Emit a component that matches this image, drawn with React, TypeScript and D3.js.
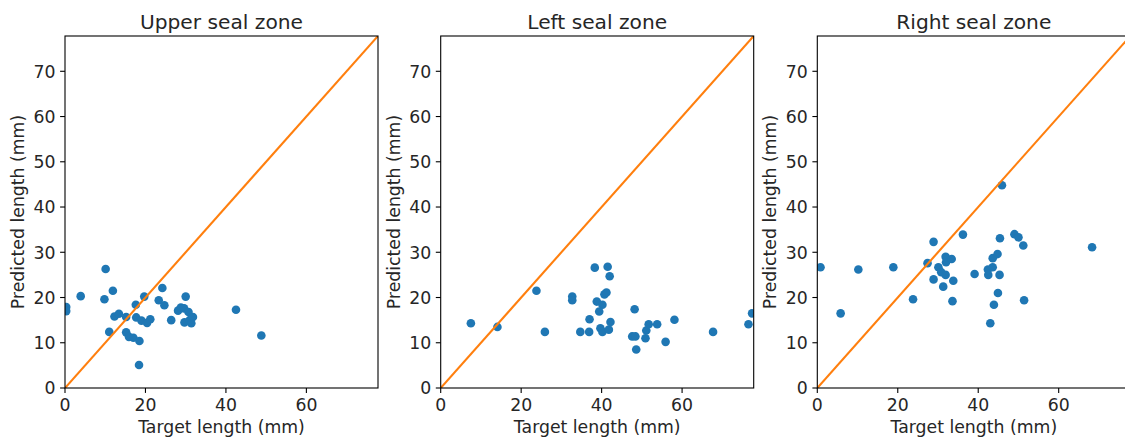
import React from "react";
import * as d3 from "d3";

const titles = ["Upper seal zone", "Left seal zone", "Right seal zone"];
const xLabel = "Target length (mm)";
const yLabel = "Predicted length (mm)";
const ticks = [0, 10, 20, 30, 40, 50, 60, 70];
const xTicks = [0, 20, 40, 60];
const axisMax = 77.8;

const upperTarget = [0.3, 0.3, 3.9, 10.1, 9.8, 11.9, 11.0, 12.3, 13.4, 15.2, 15.2, 15.9, 17.0, 18.5, 17.6, 17.7, 19.0, 20.4, 21.2, 19.7, 18.4, 24.2, 23.3, 24.7, 26.4, 28.1, 28.8, 30.0, 29.6, 30.7, 29.7, 31.0, 31.8, 31.4, 42.5, 48.8];
const upperPred = [17.9, 17.0, 20.3, 26.3, 19.6, 21.5, 12.4, 15.8, 16.4, 15.7, 12.3, 11.3, 11.1, 10.4, 18.4, 15.6, 14.9, 14.4, 15.2, 20.2, 5.1, 22.1, 19.4, 18.3, 15.0, 17.1, 17.8, 20.2, 17.6, 16.8, 14.5, 15.0, 15.7, 14.3, 17.3, 11.6];

const leftTarget = [7.5, 14.1, 23.8, 25.9, 32.7, 32.7, 34.7, 36.9, 37.0, 38.3, 38.8, 40.2, 39.4, 39.7, 40.2, 40.7, 41.2, 41.5, 42.0, 41.8, 42.2, 47.6, 48.4, 48.2, 48.6, 50.9, 51.1, 51.7, 53.8, 55.9, 58.1, 67.7, 76.5, 77.4];
const leftPred = [14.3, 13.5, 21.5, 12.4, 20.2, 19.4, 12.4, 12.4, 15.2, 26.6, 19.1, 18.4, 16.9, 13.2, 12.4, 20.7, 21.1, 26.8, 24.7, 12.9, 14.6, 11.4, 11.4, 17.4, 8.5, 11.0, 12.7, 14.1, 14.1, 10.2, 15.1, 12.4, 14.1, 16.5];

const rightTarget = [0.8, 5.8, 10.2, 18.9, 23.8, 27.4, 28.9, 28.9, 30.1, 30.8, 31.3, 31.9, 32.0, 31.9, 33.4, 33.8, 33.6, 36.2, 39.1, 42.4, 42.5, 43.0, 43.6, 43.6, 43.9, 44.8, 44.9, 45.3, 45.4, 45.9, 49.0, 50.0, 51.2, 51.4, 68.3];
const rightPred = [26.7, 16.5, 26.2, 26.7, 19.6, 27.6, 32.3, 24.0, 26.7, 25.6, 22.4, 29.0, 27.8, 25.0, 28.5, 23.7, 19.2, 33.9, 25.2, 26.2, 25.0, 14.3, 28.7, 26.7, 18.4, 29.6, 21.0, 25.0, 33.1, 44.8, 34.0, 33.3, 31.5, 19.4, 31.1];

const panels = [
  { title: titles[0], xs: upperTarget, ys: upperPred },
  { title: titles[1], xs: leftTarget, ys: leftPred },
  { title: titles[2], xs: rightTarget, ys: rightPred },
];

const W = 1125;
const H = 437;
const lefts = [65, 440.7, 817.3];
const pw = 313;
const top = 36;
const ph = 352;
const font = "DejaVu Sans, sans-serif";
const textColor = "#262626";

function Panel({ idx, title, xs, ys }: { idx: number; title: string; xs: number[]; ys: number[] }) {
  const x0 = lefts[idx];
  const x = d3.scaleLinear().domain([0, axisMax]).range([0, pw]);
  const y = d3.scaleLinear().domain([0, axisMax]).range([ph, 0]);
  const line = d3.line<number>().x((d) => x(d)).y((d) => y(d));
  const clipId = `clip-${idx}`;
  return (
    <g transform={`translate(${x0},${top})`}>
      <defs>
        <clipPath id={clipId}>
          <rect x={0} y={0} width={pw} height={ph} />
        </clipPath>
      </defs>
      <g clipPath={`url(#${clipId})`}>
        {xs.map((v, i) => (
          <circle key={i} cx={x(v)} cy={y(ys[i])} r={4.3} fill="#1f77b4" />
        ))}
        <path d={line([0, axisMax]) || ""} stroke="#ff7f0e" strokeWidth={2.1} fill="none" />
      </g>
      <rect x={0} y={0} width={pw} height={ph} fill="none" stroke="#000" strokeWidth={1.1} />
      {ticks.map((t) => (
        <g key={"y" + t} transform={`translate(0,${y(t)})`}>
          <line x1={-4.9} x2={0} stroke="#000" strokeWidth={1.1} />
          <text x={-9.5} dy="0.36em" textAnchor="end" fontFamily={font} fontSize={17.3} fill={textColor}>
            {t}
          </text>
        </g>
      ))}
      {xTicks.map((t) => (
        <g key={"x" + t} transform={`translate(${x(t)},${ph})`}>
          <line y1={0} y2={4.9} stroke="#000" strokeWidth={1.1} />
          <text y={23} textAnchor="middle" fontFamily={font} fontSize={17.3} fill={textColor}>
            {t}
          </text>
        </g>
      ))}
      <text x={pw / 2} y={-7} textAnchor="middle" fontFamily={font} fontSize={20.2} fill={textColor}>
        {title}
      </text>
      <text x={pw / 2} y={ph + 45} textAnchor="middle" fontFamily={font} fontSize={17.3} fill={textColor}>
        {xLabel}
      </text>
      <text
        transform={`translate(-41,${ph / 2}) rotate(-90)`}
        textAnchor="middle"
        fontFamily={font}
        fontSize={17.3}
        fill={textColor}
      >
        {yLabel}
      </text>
    </g>
  );
}

export default function App() {
  return (
    <div style={{ position: "absolute", left: 0, top: 0, width: W, height: H, overflow: "hidden", background: "#fff" }}>
      <svg width={W} height={H} style={{ display: "block" }}>
        <rect width={W} height={H} fill="#fff" />
        {panels.map((p, i) => (
          <Panel key={i} idx={i} title={p.title} xs={p.xs} ys={p.ys} />
        ))}
      </svg>
    </div>
  );
}
